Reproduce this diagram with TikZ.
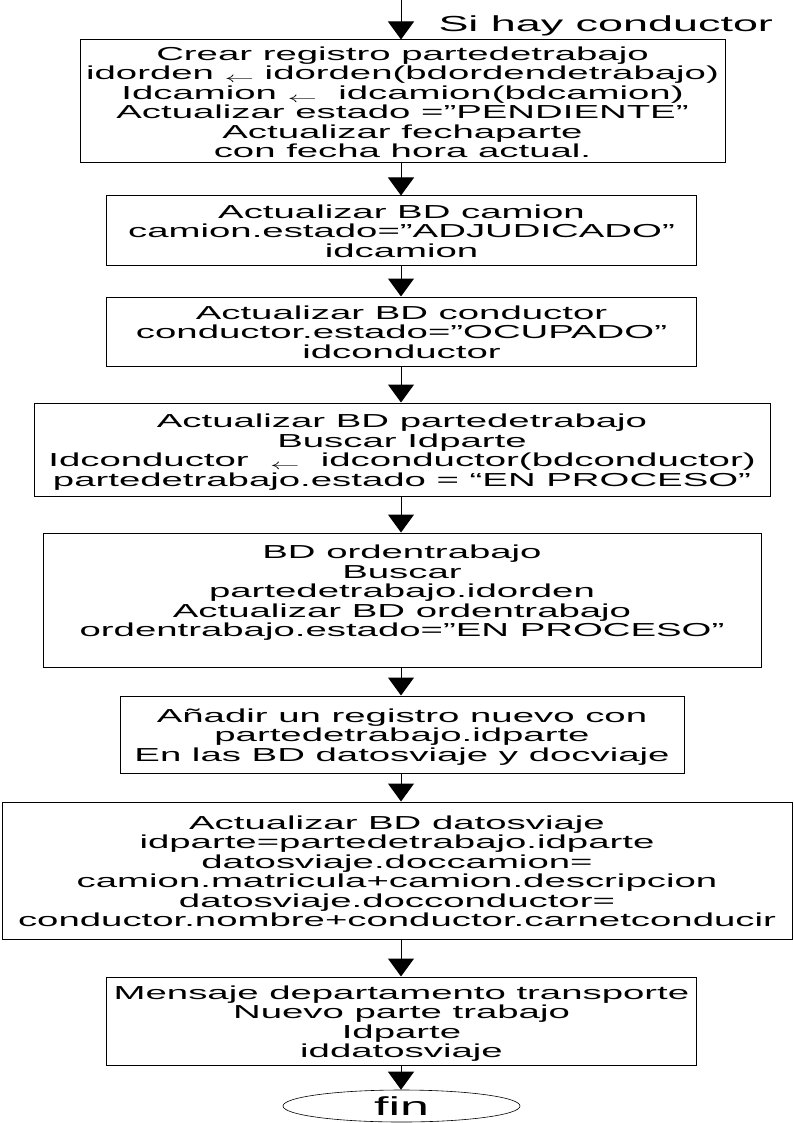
\documentclass[tikz,border=0pt]{standalone}
\usepackage{fontspec}
\usepackage{graphicx}
\usepackage{tikz}
\usetikzlibrary{arrows.meta,shapes.geometric}
\setmainfont{Liberation Sans}
\newcommand{\ancho}[1]{\raisebox{-3.5pt}[\height][\depth]{\scalebox{2.04}[1]{\begin{tabular}{@{}c@{}}#1\end{tabular}}}}
\newcommand{\flechita}{\raisebox{-3pt}{\fontsize{14}{14}\selectfont$\leftarrow$}}

\begin{document}
\begin{tikzpicture}[x=1pt,y=-1pt,line width=1pt,
                    >={Triangle[length=18pt,width=26pt]},
                    caja/.style={draw,rectangle,inner sep=1pt,font=\fontsize{18.8}{19.4}\selectfont}]
                \useasboundingbox (0,0) rectangle (794,1123);
                \coordinate (inicio) at (401,0);
                \node[anchor=base west,inner sep=0pt,font=\fontsize{21.8}{22}\selectfont] (sihay)
                    at (438,32) {\scalebox{2.06}[1]{Si hay conductor}};
                \node[caja,minimum width=645pt,minimum height=123pt] (crear) at (402.5,101.5)
                    {\ancho{Crear registro partedetrabajo\\
                    idorden \flechita\ idorden(bdordendetrabajo)\\
                    Idcamion \flechita\ \ idcamion(bdcamion)\\
                    Actualizar estado =”PENDIENTE”\\
                    Actualizar fechaparte\\
                    con fecha hora actual.}};
                \node[caja,minimum width=590pt,minimum height=69pt] (camion) at (401.5,230.5)
                    {\ancho{Actualizar BD camion\\
                    camion.estado=”ADJUDICADO”\\
                    idcamion}};
                \node[caja,minimum width=590pt,minimum height=69pt] (conductor) at (401.5,331.5)
                    {\ancho{Actualizar BD conductor\\
                    conductor.estado=”OCUPADO”\\
                    idconductor}};
                \node[caja,minimum width=736pt,minimum height=93pt] (parte) at (402,449.5)
                    {\ancho{Actualizar BD partedetrabajo\\
                    Buscar Idparte\\
                    Idconductor \ \flechita\ \ idconductor(bdconductor)\\
                    partedetrabajo.estado = “EN PROCESO”}};
                \node[caja,minimum width=718pt,minimum height=134pt] (orden) at (402,600)
                    {\ancho{BD ordentrabajo\\
                    Buscar\\
                    partedetrabajo.idorden\\
                    Actualizar BD ordentrabajo\\
                    ordentrabajo.estado=”EN PROCESO”\\
                    ~}};
                \node[caja,minimum width=564pt,minimum height=77pt] (anadir) at (402,734.5)
                    {\ancho{Añadir un registro nuevo con\\
                    partedetrabajo.idparte\\
                    En las BD datosviaje y docviaje}};
                \node[caja,minimum width=790pt,minimum height=137pt] (datos) at (397,870.5)
                    {\ancho{Actualizar BD datosviaje\\
                    idparte=partedetrabajo.idparte\\
                    datosviaje.doccamion=\\
                    camion.matricula+camion.descripcion\\
                    datosviaje.docconductor=\\
                    conductor.nombre+conductor.carnetconducir}};
                \node[caja,minimum width=590pt,minimum height=88pt] (mensaje) at (401.5,1021)
                    {\ancho{Mensaje departamento transporte\\
                    Nuevo parte trabajo\\
                    Idparte\\
                    iddatosviaje}};
                \node[draw,ellipse,line width=0.6pt,inner sep=0pt,minimum width=237pt,minimum height=32pt,
                    font=\fontsize{26}{26}\selectfont] (fin) at (401.5,1106)
                    {\scalebox{2.0}[1]{fin}};
                \draw[->]
                    (inicio) -- (inicio |- crear.north);
                \draw[->]
                    (inicio |- crear.south) -- (inicio |- camion.north);
                \draw[->]
                    (inicio |- camion.south) -- (inicio |- conductor.north);
                \draw[->]
                    (inicio |- conductor.south) -- (inicio |- parte.north);
                \draw[->]
                    (inicio |- parte.south) -- (inicio |- orden.north);
                \draw[->]
                    (inicio |- orden.south) -- (inicio |- anadir.north);
                \draw[->]
                    (inicio |- anadir.south) -- (inicio |- datos.north);
                \draw[->]
                    (inicio |- datos.south) -- (inicio |- mensaje.north);
                \draw[->]
                    (inicio |- mensaje.south) -- (inicio |- fin.north);
            \end{tikzpicture}
\end{document}
